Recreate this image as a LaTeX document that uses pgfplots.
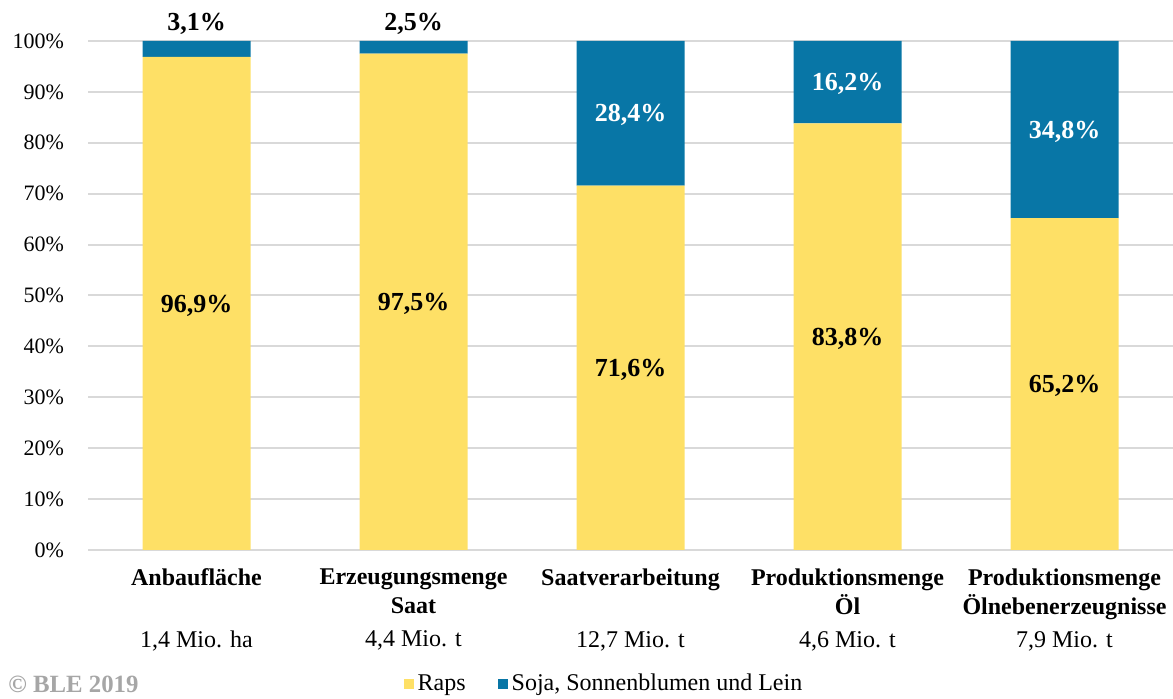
\documentclass[border=0pt]{standalone}
\usepackage{fontspec}
\setmainfont{Liberation Serif}
\usepackage{pgfplots}
\pgfplotsset{compat=1.18}

\definecolor{raps}{RGB}{254,224,102}
\definecolor{soja}{RGB}{8,118,166}
\definecolor{gridgray}{RGB}{217,217,217}

\begin{document}
\begin{tikzpicture}[font=\fontsize{12}{14.5}\selectfont,
    lab/.style={font=\fontsize{13}{15}\selectfont\bfseries}]
\useasboundingbox (0,0) rectangle (586.5pt,349.5pt);
\begin{axis}[
    at={(44pt,74.5pt)}, anchor=south west,
    scale only axis,
    width=542.5pt, height=254.5pt,
    ybar stacked,
    bar width=54pt,
    xmin=-0.5, xmax=4.5,
    ymin=0, ymax=100,
    ytick={0,10,...,100},
    yticklabel={\pgfmathprintnumber{\tick}\%},
    /pgf/number format/assume math mode=true,
    xtick={0,1,2,3,4},
    xticklabels={
        {\textbf{Anbaufläche}\\\strut\\[2pt]1,4 Mio. ha},
        {\textbf{Erzeugungsmenge}\\\textbf{Saat}\\[2pt]4,4 Mio. t},
        {\textbf{Saatverarbeitung}\\\strut\\[2pt]12,7 Mio. t},
        {\textbf{Produktionsmenge}\\\textbf{Öl}\\[2pt]4,6 Mio. t},
        {\textbf{Produktionsmenge}\\\textbf{Ölnebenerzeugnisse}\\[2pt]7,9 Mio. t}
    },
    xticklabel style={align=center, anchor=north, yshift=-6pt},
    yticklabel style={xshift=-8.5pt, font=\fontsize{11}{13}\selectfont},
    major tick length=0pt,
    axis line style={draw=none},
    ymajorgrids=true,
    major grid style={gridgray, line width=1pt},
    clip=false,
    legend columns=2,
    legend style={at={(0.4765,-0.263)}, anchor=center, draw=none,
        /tikz/every even column/.append style={column sep=14pt}},
    legend image code/.code={\fill[#1] (0pt,-2.5pt) rectangle (5pt,2.5pt);},
]
% Raps
\addplot[fill=raps, draw=none] coordinates {
    (0,96.9) (1,97.5) (2,71.6) (3,83.8) (4,65.2)
};
% Soja, Sonnenblumen und Lein
\addplot[fill=soja, draw=none] coordinates {
    (0,3.1) (1,2.5) (2,28.4) (3,16.2) (4,34.8)
};
\legend{Raps, {Soja, Sonnenblumen und Lein}}

% label positions (segment centres)
\coordinate (r0) at (axis cs:0,48.45);
\coordinate (r1) at (axis cs:1,48.75);
\coordinate (r2) at (axis cs:2,35.8);
\coordinate (r3) at (axis cs:3,41.9);
\coordinate (r4) at (axis cs:4,32.6);
\coordinate (s0) at (axis cs:0,100);
\coordinate (s1) at (axis cs:1,100);
\coordinate (s2) at (axis cs:2,85.8);
\coordinate (s3) at (axis cs:3,91.9);
\coordinate (s4) at (axis cs:4,82.6);
\end{axis}
\node[lab, yshift=-1pt] at (r0) {96,9\%};
\node[lab, yshift=-1pt] at (r1) {97,5\%};
\node[lab, yshift=-1pt] at (r2) {71,6\%};
\node[lab, yshift=-1pt] at (r3) {83,8\%};
\node[lab, yshift=-1pt] at (r4) {65,2\%};
\node[lab, yshift=8.5pt] at (s0) {3,1\%};
\node[lab, yshift=8.5pt] at (s1) {2,5\%};
\node[lab, text=white, yshift=-1pt] at (s2) {28,4\%};
\node[lab, text=white, yshift=-1pt] at (s3) {16,2\%};
\node[lab, text=white, yshift=-1pt] at (s4) {34,8\%};
\node[anchor=base west, inner sep=0pt, text=black!35,
      font=\fontsize{12.4}{14}\selectfont\bfseries] at (4pt,3pt) {© BLE 2019};
\end{tikzpicture}
\end{document}
